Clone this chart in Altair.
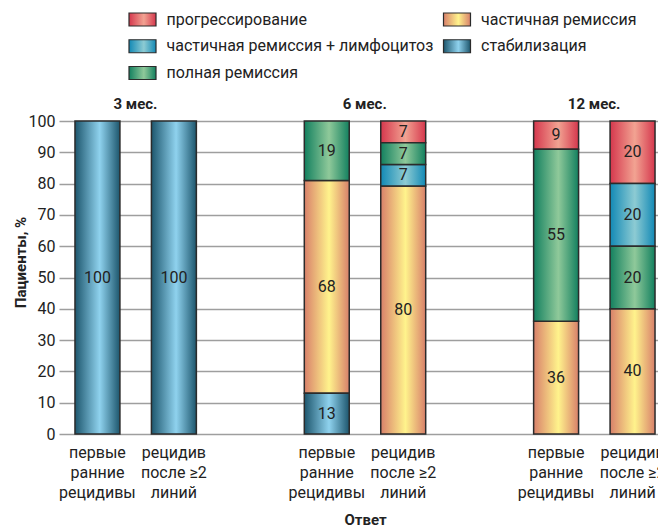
import altair as alt
import pandas as pd

FONT = "Roboto"
INK = "#222222"

# ---- data -----------------------------------------------------------------
categories = [
    "прогрессирование",
    "частичная ремиссия",
    "частичная ремиссия + лимфоцитоз",
    "стабилизация",
    "полная ремиссия",
]
edge_colors = ["#d5374d", "#d8806a", "#1289b5", "#1d566d", "#13805f"]
center_colors = ["#f2a392", "#fff38c", "#8dcbd3", "#8fd2ee", "#8fc99a"]

groups = ["3 мес.", "6 мес.", "12 мес."]
response_lines = [["первые", "ранние", "рецидивы"], ["рецидив", "после ≥2", "линий"]]

bar_group = [0, 0, 1, 1, 2, 2]
bar_response = [0, 1, 0, 1, 0, 1]

# segments listed bottom -> top for each bar
seg_bar = [0, 1, 2, 2, 2, 3, 3, 3, 3, 4, 4, 4, 5, 5, 5, 5]
seg_category = [
    "стабилизация",
    "стабилизация",
    "стабилизация", "частичная ремиссия", "полная ремиссия",
    "частичная ремиссия", "частичная ремиссия + лимфоцитоз", "полная ремиссия", "прогрессирование",
    "частичная ремиссия", "полная ремиссия", "прогрессирование",
    "частичная ремиссия", "полная ремиссия", "частичная ремиссия + лимфоцитоз", "прогрессирование",
]
seg_value = [100, 100, 13, 68, 19, 80, 7, 7, 7, 36, 55, 9, 40, 20, 20, 20]


def slot_key(b):
    return f"{groups[bar_group[b]]}|{bar_response[b]}"


rows = []
counter = {}
for b, c, v in zip(seg_bar, seg_category, seg_value):
    k = counter.get(b, 0)
    counter[b] = k + 1
    rows.append({"slot": slot_key(b), "category": c, "value": v, "idx": k})
df = pd.DataFrame(rows)

domain = []
for gi, g in enumerate(groups):
    if gi:
        domain.append(f"gap{gi}")
    domain += [f"{g}|0", f"{g}|1"]


def arr(lines):
    return "[" + ",".join("'" + s + "'" for s in lines) + "]"


label_expr = (
    f"indexof(datum.value, '|0') > 0 ? {arr(response_lines[0])} : "
    f"indexof(datum.value, '|1') > 0 ? {arr(response_lines[1])} : ''"
)


def grad(i):
    return alt.LinearGradient(
        gradient="linear",
        x1=0, x2=1, y1=0, y2=0,
        stops=[
            alt.GradientStop(offset=0, color=edge_colors[i]),
            alt.GradientStop(offset=0.55, color=center_colors[i]),
            alt.GradientStop(offset=1, color=edge_colors[i]),
        ],
    )


# ---- encodings --------------------------------------------------------------
x_enc = alt.X(
    "slot:N",
    sort=domain,
    scale=alt.Scale(domain=domain, range=[0, 612], paddingInner=0.412, paddingOuter=0.209),
    axis=alt.Axis(
        title="Ответ",
        labelExpr=label_expr,
        labelAngle=0,
        ticks=False,
        tickSize=0,
        domain=False,
        grid=False,
        labelOverlap=False,
        labelPadding=23,
        labelBaseline="alphabetic",
        labelLineHeight=20,
        labelFontSize=16,
        labelColor=INK,
        titleFontSize=15,
        titleFontWeight="bold",
        titleColor=INK,
        titleX=306,
        titleY=85,
        titleBaseline="middle",
    ),
)

y_axis = alt.Axis(
    values=list(range(0, 101, 10)),
    title="Пациенты, %",
    ticks=False,
    tickSize=0,
    domain=False,
    grid=True,
    gridColor="#9e9e9e",
    gridWidth=1.5,
    labelOverlap=False,
    labelPadding=4,
    labelFontSize=16,
    labelColor=INK,
    titleFontSize=15,
    titleFontWeight="bold",
    titleColor=INK,
    titleX=-39,
    titleY=141,
    titleAngle=270,
    titleAlign="center",
    titleBaseline="middle",
)
y_scale = alt.Scale(domain=[0, 100], nice=False)

base = (
    alt.Chart(df)
    .transform_joinaggregate(total="sum(value)", groupby=["slot"])
    .transform_calculate(pct="datum.value / datum.total * 100")
    .transform_window(
        top="sum(pct)", groupby=["slot"], sort=[alt.SortField("idx")], frame=[None, 0]
    )
    .transform_calculate(bottom="datum.top - datum.pct", mid="datum.top - datum.pct / 2")
)

bar_layers = []
for i, c in enumerate(categories):
    bar_layers.append(
        base.transform_filter(alt.datum.category == c)
        .mark_bar(fill=grad(i), stroke="#2b2b2b", strokeWidth=1.5)
        .encode(
            x=x_enc,
            y=alt.Y("top:Q", scale=y_scale, axis=y_axis),
            y2="bottom:Q",
        )
    )

value_text = base.mark_text(font=FONT, fontSize=16, color=INK, baseline="middle").encode(
    x=x_enc, y=alt.Y("mid:Q", scale=y_scale, axis=y_axis), text="value:Q"
)

titles_df = pd.DataFrame({"group": groups, "slot": [f"{g}|0" for g in groups]})
group_titles = (
    alt.Chart(titles_df)
    .mark_text(font=FONT, fontSize=15, fontWeight="bold", color=INK, dx=38, dy=-17, baseline="middle")
    .encode(x=x_enc, y=alt.YDatum(100, scale=y_scale, axis=y_axis), text="group:N")
)

main = alt.layer(*bar_layers, value_text, group_titles)

# ---- legend (2 columns, row-major) -----------------------------------------
legend_df = pd.DataFrame(
    {
        "category": categories,
        "row": [i // 2 for i in range(len(categories))],
        "col": [i % 2 for i in range(len(categories))],
    }
)
lx = alt.X("col:Q", scale=alt.Scale(domain=[0, 1], range=[83.5, 398], nice=False, zero=False), axis=None)
ly = alt.Y("row:Q", scale=alt.Scale(domain=[0, 2], range=[-101.5, -48], nice=False, zero=False), axis=None)

legend_layers = []
for i, c in enumerate(categories):
    legend_layers.append(
        alt.Chart(legend_df)
        .transform_filter(alt.datum.category == c)
        .mark_point(
            shape="M-1,-0.48H1V0.48H-1Z",
            size=729,
            filled=True,
            fill=grad(i),
            stroke="#2b2b2b",
            strokeWidth=1.2,
            opacity=1,
        )
        .encode(x=lx, y=ly)
    )
legend_text = (
    alt.Chart(legend_df)
    .mark_text(font=FONT, fontSize=16, color=INK, align="left", baseline="middle", dx=24)
    .encode(x=lx, y=ly, text="category:N")
)
legend = alt.layer(*legend_layers, legend_text)

chart = (
    alt.layer(main, legend)
    .resolve_scale(x="independent", y="independent")
    .properties(
        width=599,
        height=313,
        autosize=alt.AutoSizeParams(type="none"),
        padding={"left": 59, "top": 121, "right": 0, "bottom": 95},
    )
    .configure_view(stroke=None)
    .configure_axis(labelFont=FONT, titleFont=FONT)
)

chart.save("out.html", embed_options={"renderer": "svg", "actions": False})
